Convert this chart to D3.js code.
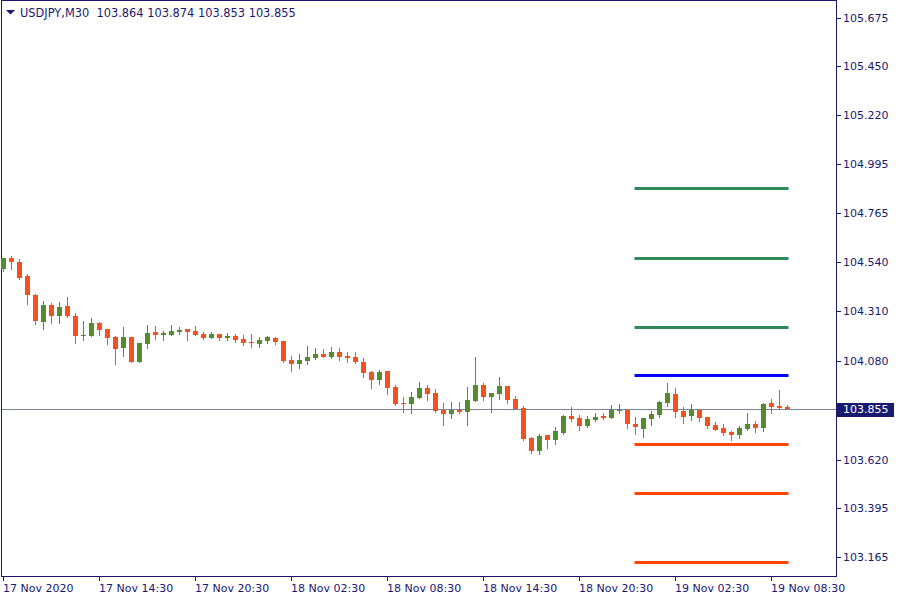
<!DOCTYPE html>
<html><head><meta charset="utf-8">
<script src="https://cdn.jsdelivr.net/npm/d3@7"></script>
<style>
html,body{margin:0;padding:0;background:#fff;}
svg{display:block;font-family:"DejaVu Sans",sans-serif;}
</style></head>
<body>
<svg id="chart" width="900" height="600"></svg>
<script>
const symbol = "USDJPY,M30";
const headerValues = ["103.864","103.874","103.853","103.855"];
const timeLabels = ["17 Nov 2020","17 Nov 14:30","17 Nov 20:30","18 Nov 02:30","18 Nov 08:30","18 Nov 14:30","18 Nov 20:30","19 Nov 02:30","19 Nov 08:30"];
const timeLabelBars = [0,12,24,36,48,60,72,84,96];
const priceTicks = [105.675,105.450,105.220,104.995,104.765,104.540,104.310,104.080,103.620,103.395,103.165];
const currentPrice = 103.855;

const opens  = [104.506,104.556,104.538,104.473,104.385,104.261,104.339,104.289,104.334,104.287,
104.196,104.196,104.255,104.227,104.190,104.140,104.190,104.075,104.159,104.213,
104.200,104.200,104.214,104.227,104.218,104.204,104.187,104.204,104.187,104.194,
104.180,104.167,104.159,104.173,104.185,104.171,104.083,104.066,104.080,104.094,
104.111,104.098,104.120,104.101,104.097,104.074,104.028,103.991,104.032,103.957,
103.884,103.880,103.908,103.953,103.929,103.852,103.833,103.852,103.842,103.894,
103.967,103.912,103.926,103.962,103.901,103.860,103.720,103.661,103.734,103.712,
103.743,103.822,103.813,103.777,103.805,103.822,103.815,103.846,103.850,103.785,
103.763,103.810,103.829,103.884,103.925,103.846,103.824,103.850,103.818,103.781,
103.767,103.750,103.736,103.762,103.785,103.768,103.883,103.869,103.864];
const highs  = [104.558,104.566,104.551,104.483,104.390,104.357,104.348,104.352,104.376,104.301,
104.264,104.278,104.260,104.228,104.194,104.236,104.191,104.163,104.246,104.241,
104.218,104.246,104.236,104.228,104.241,104.212,104.212,104.205,104.208,104.204,
104.199,104.204,104.190,104.194,104.190,104.172,104.101,104.111,104.148,104.139,
104.134,104.143,104.139,104.120,104.120,104.092,104.033,104.038,104.033,103.967,
103.911,103.934,103.981,103.967,103.948,103.883,103.888,103.888,103.957,104.097,
103.976,103.930,104.004,103.963,103.915,103.869,103.725,103.739,103.735,103.770,
103.827,103.864,103.827,103.822,103.836,103.836,103.874,103.878,103.851,103.818,
103.814,103.846,103.892,103.976,103.953,103.864,103.878,103.851,103.819,103.795,
103.785,103.754,103.776,103.836,103.799,103.883,103.901,103.943,103.874];
const lows   = [104.497,104.506,104.459,104.343,104.250,104.228,104.256,104.256,104.283,104.163,
104.177,104.195,104.200,104.157,104.064,104.103,104.074,104.074,104.140,104.182,
104.177,104.199,104.205,104.177,104.199,104.182,104.186,104.177,104.177,104.168,
104.154,104.145,104.145,104.163,104.159,104.075,104.033,104.047,104.066,104.089,
104.097,104.094,104.084,104.075,104.070,104.005,103.954,103.973,103.926,103.875,
103.842,103.838,103.907,103.898,103.842,103.782,103.815,103.838,103.782,103.893,
103.898,103.842,103.903,103.884,103.853,103.711,103.652,103.647,103.675,103.694,
103.739,103.801,103.759,103.773,103.801,103.810,103.814,103.838,103.768,103.740,
103.726,103.782,103.818,103.870,103.819,103.791,103.805,103.801,103.768,103.758,
103.736,103.712,103.722,103.757,103.750,103.754,103.838,103.856,103.853];
const closes = [104.556,104.540,104.464,104.386,104.266,104.339,104.289,104.329,104.287,104.196,
104.200,104.255,104.224,104.187,104.134,104.190,104.075,104.162,104.208,104.200,
104.208,104.218,104.222,104.214,104.200,104.187,104.204,104.187,104.194,104.177,
104.163,104.163,104.176,104.190,104.168,104.080,104.066,104.083,104.097,104.111,
104.098,104.120,104.098,104.094,104.075,104.024,103.991,104.028,103.954,103.880,
103.881,103.911,103.953,103.926,103.847,103.833,103.852,103.842,103.897,103.967,
103.912,103.929,103.962,103.898,103.854,103.716,103.661,103.730,103.712,103.753,
103.822,103.810,103.777,103.808,103.818,103.813,103.850,103.852,103.787,103.773,
103.813,103.832,103.888,103.929,103.842,103.819,103.850,103.815,103.777,103.759,
103.745,103.736,103.767,103.785,103.768,103.878,103.866,103.861,103.855];

const resistanceLevels = [104.882,104.557,104.236];
const pivotLevels = [104.013];
const supportLevels = [103.692,103.465,103.144];
const levelFromBar = 79, levelToBar = 98;

const TXT = "#191970";
const BULL = "#558b2f", BEAR = "#f4511e";
const svg = d3.select("#chart");

const x = d3.scaleLinear().domain([0, 98]).range([3.5, 787.5]);
const y = d3.scaleLinear().domain([103.855, 105.675]).range([409, 17.5]);
const Y = v => Math.round(y(v));

// frame
svg.append("rect").attr("x",1.5).attr("y",0.5).attr("width",835).attr("height",576)
  .attr("fill","none").attr("stroke",TXT).attr("stroke-width",1);

// current price line
svg.append("line").attr("x1",2).attr("x2",836).attr("y1",Y(currentPrice)+0.5).attr("y2",Y(currentPrice)+0.5)
  .attr("stroke","#778899").attr("stroke-width",1);

// candles
const idx = d3.range(opens.length);
const g = svg.append("g");
g.selectAll("line.wick").data(idx).join("line").attr("class","wick")
  .attr("x1",i=>Math.floor(x(i))+0.5).attr("x2",i=>Math.floor(x(i))+0.5)
  .attr("y1",i=>Y(highs[i])).attr("y2",i=>Y(lows[i])+1)
  .attr("stroke",i=>closes[i]>=opens[i]?BULL:BEAR).attr("stroke-width",1);
g.selectAll("rect.body").data(idx).join("rect").attr("class","body")
  .attr("x",i=>Math.floor(x(i))-2).attr("width",5)
  .attr("y",i=>Y(Math.max(opens[i],closes[i])))
  .attr("height",i=>Math.max(1,Y(Math.min(opens[i],closes[i]))-Y(Math.max(opens[i],closes[i]))))
  .attr("fill",i=>closes[i]>=opens[i]?BULL:BEAR);

// level lines
function levels(arr,color){
  svg.append("g").selectAll("line").data(arr).join("line")
    .attr("x1",x(levelFromBar)-1).attr("x2",x(levelToBar)+1)
    .attr("y1",d=>Y(d)+0.5).attr("y2",d=>Y(d)+0.5)
    .attr("stroke",color).attr("stroke-width",3);
}
levels(resistanceLevels,"#2e8b57");
levels(pivotLevels,"#0000ff");
levels(supportLevels,"#ff4500");

// right axis
const ra = svg.append("g").attr("fill",TXT).attr("font-size",11);
ra.selectAll("line").data(priceTicks).join("line")
  .attr("x1",837).attr("x2",841).attr("y1",d=>Y(d)+0.5).attr("y2",d=>Y(d)+0.5)
  .attr("stroke",TXT);
ra.selectAll("text").data(priceTicks).join("text")
  .attr("x",843).attr("y",d=>Y(d)).attr("dy","0.36em")
  .text(d=>d.toFixed(3));
// current price label
svg.append("rect").attr("x",837).attr("y",Y(currentPrice)-6).attr("width",57).attr("height",14).attr("fill",TXT);
svg.append("text").attr("x",843).attr("y",Y(currentPrice)).attr("dy","0.38em")
  .attr("fill","#fff").attr("font-size",11).text(currentPrice.toFixed(3));

// bottom axis
const ba = svg.append("g").attr("fill",TXT).attr("font-size",11);
ba.selectAll("line").data(timeLabelBars).join("line")
  .attr("x1",b=>Math.floor(x(b))+0.5).attr("x2",b=>Math.floor(x(b))+0.5).attr("y1",577).attr("y2",581)
  .attr("stroke",TXT);
ba.selectAll("text").data(timeLabelBars).join("text")
  .attr("x",b=>Math.floor(x(b))).attr("y",592)
  .text((b,i)=>timeLabels[i]);

// header
svg.append("path").attr("d","M6,10 L15,10 L10.5,14.5 Z").attr("fill",TXT);
svg.append("text").attr("x",20).attr("y",17).attr("fill",TXT).attr("font-size",11.4)
  .attr("xml:space","preserve")
  .text(symbol + "  " + headerValues.join(" "));
</script>
</body></html>
